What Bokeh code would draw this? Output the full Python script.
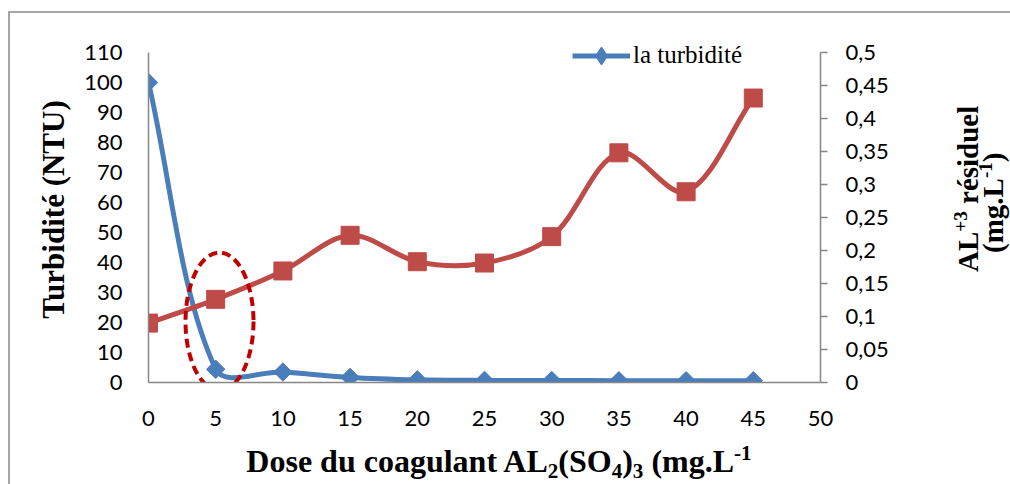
import math
from bokeh.plotting import figure
from bokeh.layouts import row, column
from bokeh.models import Range1d, LinearAxis, FixedTicker, Legend, LegendItem, Div
from bokeh.embed import file_html
from bokeh.resources import INLINE

# ---------------- data ----------------
dose = [0, 5, 10, 15, 20, 25, 30, 35, 40, 45]
turbidite = [100, 4.4, 3.5, 1.7, 0.9, 0.7, 0.7, 0.6, 0.6, 0.6]
al_residuel = [0.09, 0.126, 0.169, 0.223, 0.183, 0.181, 0.221, 0.348, 0.289, 0.431]
x_ticks = [0, 5, 10, 15, 20, 25, 30, 35, 40, 45, 50]
left_ticks = [0, 10, 20, 30, 40, 50, 60, 70, 80, 90, 100, 110]
right_ticks = [0, 0.05, 0.1, 0.15, 0.2, 0.25, 0.3, 0.35, 0.4, 0.45, 0.5]
right_tick_labels = ["0", "0,05", "0,1", "0,15", "0,2", "0,25", "0,3", "0,35",
                     "0,4", "0,45", "0,5"]
legend_label = "la turbidité"
left_title = "Turbidité (NTU)"

# ---------------- geometry ----------------
TOTAL_W, TOTAL_H = 1010, 484
W, H = 905, 440           # figure part
ML = 148                  # left edge of plot area
AX_TOP = 52               # top of the axes (value 110 / 0.5)
MT = 36                   # frame top (a bit above the axes so the legend fits)
AX_BOTTOM = 382
FW = 672
FH = AX_BOTTOM - MT
MR, MB = W - ML - FW, H - MT - FH
XMIN, XMAX = 0, 50
YMIN, YTOP = 0, 110
RMIN, RTOP = 0, 0.5
KX = FW / (XMAX - XMIN)
KY = (AX_BOTTOM - AX_TOP) / (YTOP - YMIN)
KR = (AX_BOTTOM - AX_TOP) / (RTOP - RMIN)
YMAX = YTOP + (AX_TOP - MT) / KY
RMAX = RTOP + (AX_TOP - MT) / KR


def px2x(px):
    return XMIN + (px - ML) / KX


def py2y(py):
    return YMIN + (AX_BOTTOM - py) / KY


def smooth(xs, ys, kx, ky, f=1.0 / 3.0):
    """Excel-like smoothed curve as cubic bezier segments (drawing only)."""
    n = len(xs)
    P = [(x * kx, y * ky) for x, y in zip(xs, ys)]

    def d(a, b):
        return math.hypot(b[0] - a[0], b[1] - a[1])

    out = {k: [] for k in ("x0", "y0", "x1", "y1", "cx0", "cy0", "cx1", "cy1")}
    for i in range(n - 1):
        p_prev = P[i - 1] if i > 0 else P[i]
        p0, p1 = P[i], P[i + 1]
        p_next = P[i + 2] if i + 2 < n else P[i + 1]
        dp, dc, dn = d(p_prev, p0), d(p0, p1), d(p1, p_next)
        a = dc / (dp + dc) if dp + dc > 0 else 0
        b = dc / (dc + dn) if dc + dn > 0 else 0
        c0 = (p0[0] + (p1[0] - p_prev[0]) * a * f, p0[1] + (p1[1] - p_prev[1]) * a * f)
        c1 = (p1[0] - (p_next[0] - p0[0]) * b * f, p1[1] - (p_next[1] - p0[1]) * b * f)
        out["x0"].append(p0[0] / kx); out["y0"].append(p0[1] / ky)
        out["x1"].append(p1[0] / kx); out["y1"].append(p1[1] / ky)
        out["cx0"].append(c0[0] / kx); out["cy0"].append(c0[1] / ky)
        out["cx1"].append(c1[0] / kx); out["cy1"].append(c1[1] / ky)
    return out


BLUE = "#4A7EBB"
RED = "#BE4B48"
AXIS = "#868686"
FRAME = "#A6A6A6"
TF = "Liberation Serif"

p = figure(width=W, height=H, x_range=Range1d(XMIN, XMAX), y_range=Range1d(YMIN, YMAX),
           output_backend="svg", toolbar_location=None,
           min_border_left=ML, min_border_right=MR, min_border_top=MT,
           min_border_bottom=MB, margin=0)
p.extra_y_ranges = {"right": Range1d(RMIN, RMAX)}
p.outline_line_color = None
p.grid.visible = False
p.background_fill_color = "white"
p.border_fill_color = None

TICK_FONT = "Lato"
TICK_SIZE = "22px"

for ax, ticks in ((p.xaxis[0], x_ticks), (p.yaxis[0], left_ticks)):
    ax.ticker = FixedTicker(ticks=ticks)
    ax.major_label_text_font = TICK_FONT
    ax.major_label_text_font_size = TICK_SIZE
    ax.major_label_text_color = "#000000"
    ax.axis_line_color = AXIS
    ax.axis_line_width = 1.5
    ax.major_tick_out = 0
    ax.major_tick_in = 0
    ax.minor_tick_out = 0
    ax.minor_tick_in = 0
p.yaxis[0].bounds = (YMIN, YTOP)
p.xaxis[0].major_label_standoff = 28
p.yaxis[0].major_label_standoff = 26

p.yaxis[0].axis_label = left_title
p.yaxis[0].axis_label_text_font = TF
p.yaxis[0].axis_label_text_font_style = "bold"
p.yaxis[0].axis_label_text_color = "#000000"
p.yaxis[0].axis_label_text_font_size = "31px"
p.yaxis[0].axis_label_standoff = 10

ax_r = LinearAxis(y_range_name="right", ticker=FixedTicker(ticks=right_ticks),
                  major_label_overrides=dict(zip(right_ticks, right_tick_labels)),
                  bounds=(RMIN, RTOP))
ax_r.major_label_text_font = TICK_FONT
ax_r.major_label_text_font_size = TICK_SIZE
ax_r.major_label_text_color = "#000000"
ax_r.axis_line_color = AXIS
ax_r.axis_line_width = 1.5
ax_r.major_tick_line_color = AXIS
ax_r.major_tick_line_width = 1.5
ax_r.major_tick_out = 7
ax_r.major_tick_in = 0
ax_r.minor_tick_out = 0
ax_r.minor_tick_in = 0
ax_r.major_label_standoff = 18
p.add_layout(ax_r, "right")

# ---------------- series ----------------
sb = smooth(dose, turbidite, KX, KY)
blue_line = p.bezier(x0=sb["x0"], y0=sb["y0"], x1=sb["x1"], y1=sb["y1"],
                     cx0=sb["cx0"], cy0=sb["cy0"], cx1=sb["cx1"], cy1=sb["cy1"],
                     line_color=BLUE, line_width=5)
blue_pts = p.scatter(dose, turbidite, marker="square", angle=math.pi / 4, size=13,
                     fill_color=BLUE, line_color=BLUE)
# diamond key for the legend (drawn on the first point, inside its marker)
legend_key = p.scatter(dose[:1], turbidite[:1], marker="diamond", size=18,
                       fill_color=BLUE, line_color=BLUE)

sr = smooth(dose, al_residuel, KX, KR)
p.bezier(x0=sr["x0"], y0=sr["y0"], x1=sr["x1"], y1=sr["y1"],
         cx0=sr["cx0"], cy0=sr["cy0"], cx1=sr["cx1"], cy1=sr["cy1"],
         line_color=RED, line_width=5, y_range_name="right")
p.scatter(dose, al_residuel, marker="square", size=18, fill_color=RED,
          line_color=RED, y_range_name="right")

# dashed ellipse highlight
p.ellipse(x=px2x(219), y=py2y(321), width=68 / KX, height=138 / KY,
          fill_alpha=0, line_color="#C00000", line_width=4, line_dash="9 5")

# ---------------- legend ----------------
LEG_H = 45
legend = Legend(items=[LegendItem(label=legend_label, renderers=[blue_line, legend_key])],
                location=(572 - ML, AX_BOTTOM - 55 - LEG_H / 2),
                glyph_width=58, glyph_height=LEG_H, label_standoff=3, padding=0,
                margin=0, spacing=0, border_line_color=None,
                background_fill_alpha=0, label_text_font=TF,
                label_text_font_size="25px", label_text_color="#000000")
p.add_layout(legend)

# ---------------- titles with sub/superscripts (HTML text) ----------------
FONT_CSS = f"font-family:'{TF}'; font-weight:bold; color:#000; white-space:nowrap;"
SUB = "font-size:0.66em; vertical-align:-0.3em; line-height:0;"
SUP = "font-size:0.66em; vertical-align:0.55em; line-height:0;"

RW = TOTAL_W - W
r_line1 = f"AL<span style='{SUP}'>+3</span> résiduel"
r_line2 = f"(mg.L<span style='{SUP}'>-1</span>)"


def rot_span(html, left, top, size):
    return (f"<div style=\"position:absolute; left:{left}px; top:{top}px; "
            f"font-size:{size}px; line-height:{size}px; {FONT_CSS} "
            f"transform:rotate(-90deg); transform-origin:0 0;\">{html}</div>")


right_html = (f"<div style=\"position:relative; width:{RW}px; height:{H}px;\">"
              + rot_span(r_line1, 954 - W, 272, 29)
              + rot_span(r_line2, 979 - W, 253, 29)
              + "</div>")
right_div = Div(text=right_html, width=RW, height=H, margin=0)

x_title_html = (f"Dose du coagulant AL<span style='{SUB}'>2</span>(SO"
                f"<span style='{SUB}'>4</span>)<span style='{SUB}'>3</span> (mg.L"
                f"<span style='{SUP}'>-1</span>")
BH = TOTAL_H - H
bottom_html = (f"<div style=\"position:relative; width:{TOTAL_W}px; height:{BH}px;\">"
               f"<div style=\"position:absolute; left:0; width:{TOTAL_W - 12}px; top:5px; "
               f"text-align:center; font-size:32px; line-height:32px; {FONT_CSS}\">"
               f"{x_title_html}</div></div>")
bottom_div = Div(text=bottom_html, width=TOTAL_W, height=BH, margin=0)

layout = column(row(p, right_div, spacing=0, margin=0), bottom_div, spacing=0, margin=0)
layout.styles = {"background": (f"linear-gradient({FRAME}, {FRAME}) 8px 11px / 2px 100% no-repeat, "
                                f"linear-gradient({FRAME}, {FRAME}) 8px 11px / 100% 2px no-repeat, "
                                "#ffffff")}

open("out.html", "w").write(file_html(layout, INLINE))
